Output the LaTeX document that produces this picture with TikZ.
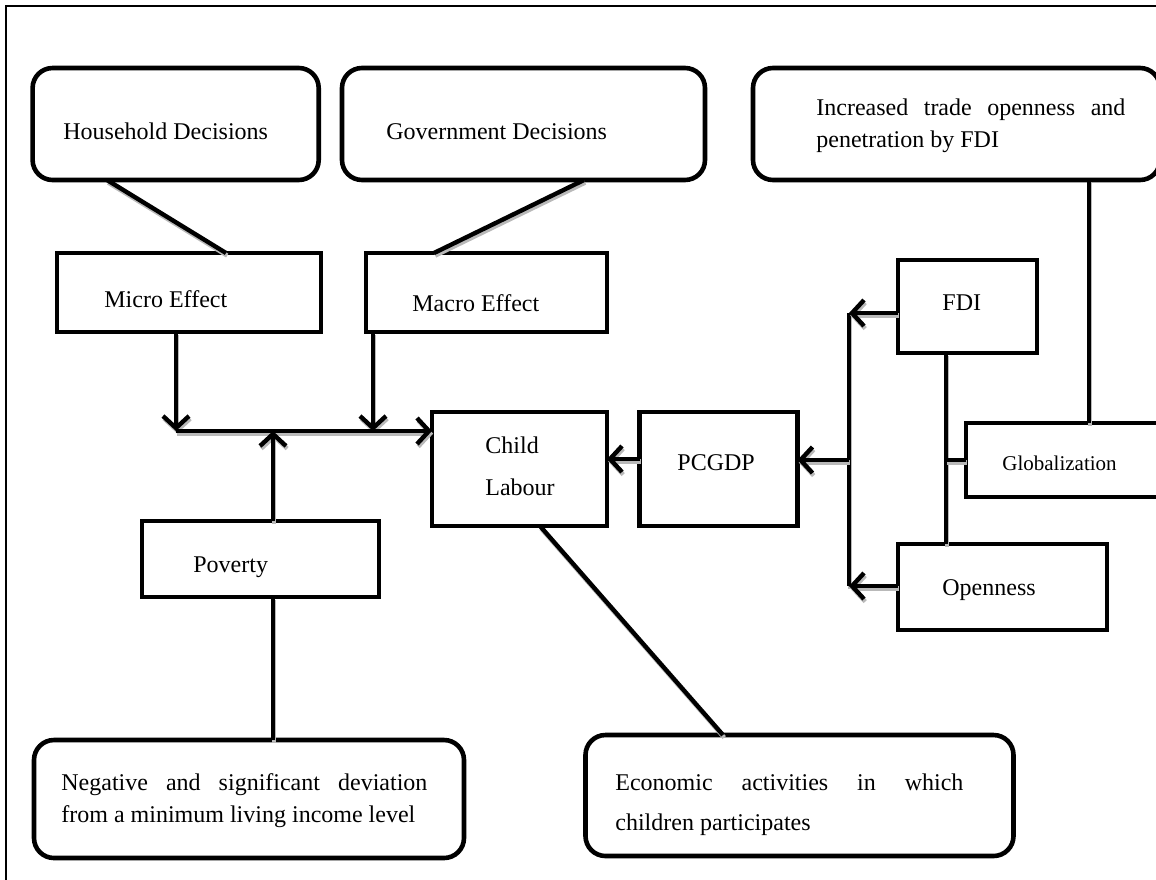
\documentclass[tikz,border=0pt]{standalone}
\usepackage{fontspec}
\setmainfont{Liberation Serif}
\usetikzlibrary{arrows.meta,fit}
\begin{document}
\begin{tikzpicture}[x=0.5pt,y=-0.5pt,
  box/.style={draw, line width=2.3pt, inner sep=0pt, outer sep=0pt},
  rbox/.style={box, rounded corners=10pt},
  txt/.style={anchor=base west, inner sep=0pt, font=\fontsize{12}{14}\selectfont},
  smalltxt/.style={txt, font=\fontsize{10.5}{12}\selectfont},
  conn/.style={line width=2.2pt, preaction={draw=gray!55, line width=2.2pt, transform canvas={xshift=0.6pt,yshift=-1.3pt}}},
  arr/.style={conn, -{Straight Barb[length=6pt,width=13pt]}},
]
\useasboundingbox (0,0) rectangle (1156,879);
\clip (0,0) rectangle (1156,879);
% frame
\draw[line width=0.75pt] (6,900) -- (6,6) -- (1180,6);

% boxes
\node[rbox, fit={(32.6,68) (318.7,180)}] (hh) {};
\node[rbox, fit={(342,68) (705,180)}] (gov) {};
\node[rbox, fit={(753,68) (1160,180)}] (inc) {};
\node[box, fit={(57,253) (321,332)}] (micro) {};
\node[box, fit={(366,253) (607,332)}] (macro) {};
\node[box, fit={(432,412) (607,526)}] (child) {};
\node[box, fit={(639.5,412) (797.5,526)}] (pcgdp) {};
\node[box, fit={(898,260) (1037,353)}] (fdi) {};
\node[box, fit={(966,423) (1175,497)}] (glob) {};
\node[box, fit={(898,544) (1107,630)}] (open) {};
\node[box, fit={(142,521) (379,597)}] (pov) {};
\node[rbox, fit={(34,740) (464,858)}] (neg) {};
\node[rbox, fit={(585.5,735) (1013.5,856)}] (econ) {};

% texts
\node[txt] (thh) at (63,139) {Household Decisions};
\node[txt] (tgov) at (386,139) {Government Decisions};
\node[txt] (tinc1) at (816,115) {\makebox[154.5pt][s]{Increased trade openness and}};
\node[txt] (tinc2) at (816,147) {penetration by FDI};
\node[txt] (tmicro) at (104,307) {Micro Effect};
\node[txt] (tmacro) at (412,311) {Macro Effect};
\node[txt] (tchild1) at (485,453) {Child};
\node[txt] (tchild2) at (485,495) {Labour};
\node[txt] (tpcgdp) at (677,470) {PCGDP};
\node[txt] (tfdi) at (942,310) {FDI};
\node[smalltxt] (tglob) at (1002,470) {Globalization};
\node[txt] (topen) at (942,595) {Openness};
\node[txt] (tpov) at (193,572) {Poverty};
\node[txt] (tneg1) at (61,790) {\makebox[183pt][s]{Negative and significant deviation}};
\node[txt] (tneg2) at (61,822) {from a minimum living income level};
\node[txt] (tecon1) at (615,790) {\makebox[174pt][s]{Economic activities in which}};
\node[txt] (tecon2) at (615,830) {children participates};

% connectors
\coordinate (j1) at (176,431);
\coordinate (j2) at (373,431);
\coordinate (j3) at (273,431);
\draw[conn] (hh.south -| 107,0) -- (micro.north -| 226,0);
\draw[conn] (gov.south -| 584,0) -- (macro.north -| 434,0);
\draw[arr] (micro.south -| j1) -- (j1);
\draw[arr] (macro.south -| j2) -- (j2);
\draw[arr] (j1) -- (child.west |- j1);
\draw[arr] (pov.north -| j3) -- (j3);
\draw[conn] (pov.south -| j3) -- (neg.north -| j3);
\draw[conn] (child.south -| 540,0) -- (econ.north -| 723,0);
\coordinate (v1) at (849,313);
\coordinate (v2) at (849,586);
\coordinate (v3) at (849,460);
\draw[conn] (v1) -- (v2);
\draw[arr] (fdi.west |- v1) -- (v1);
\draw[arr] (open.west |- v2) -- (v2);
\draw[arr] (v3) -- (pcgdp.east |- v3);
\coordinate (p1) at (700,459);
\draw[arr] (pcgdp.west |- p1) -- (child.east |- p1);
\coordinate (g1) at (946,460);
\draw[conn] (fdi.south -| g1) -- (open.north -| g1);
\draw[conn] (g1) -- (glob.west |- g1);
\draw[conn] (inc.south -| 1089,0) -- (glob.north -| 1089,0);
\end{tikzpicture}
\end{document}
